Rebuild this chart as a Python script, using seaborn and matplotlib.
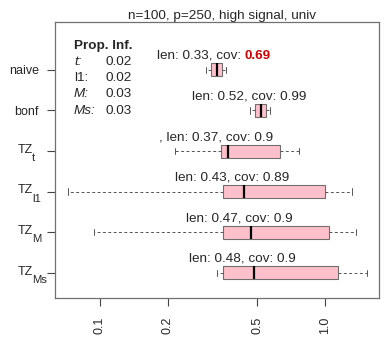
import numpy as np
import pandas as pd
import matplotlib
matplotlib.use('Agg')
import matplotlib.pyplot as plt
from matplotlib.transforms import blended_transform_factory
import seaborn as sns

methods = ['naive', 'bonf', 'TZ_t', 'TZ_l1', 'TZ_M', 'TZ_Ms']
label_main = ['naive', 'bonf', 'TZ', 'TZ', 'TZ', 'TZ']
label_sub = ['', '', 't', 'l1', 'M', 'Ms']

# five-number summaries of interval length
lo_whisker = [0.296, 0.464, 0.215, 0.0718, 0.0944, 0.332]
q1 = [0.313, 0.490, 0.345, 0.351, 0.351, 0.351]
median = [0.332, 0.519, 0.370, 0.435, 0.469, 0.483]
q3 = [0.348, 0.545, 0.631, 1.0, 1.042, 1.145]
hi_whisker = [0.363, 0.570, 0.769, 1.315, 1.374, 1.53]

len_text = ['0.33', '0.52', '0.37', '0.43', '0.47', '0.48']
cov_text = ['0.69', '0.99', '0.9', '0.89', '0.9', '0.9']
prefix = ['', '', ', ', '', '', '']

prop_names = ['t:', 'l1:', 'M:', 'Ms:']
prop_italic = [True, False, True, True]
prop_values = ['0.02', '0.02', '0.03', '0.03']

x_ticks = [0.1, 0.2, 0.5, 1.0]
x_tick_labels = ['0.1', '0.2', '0.5', '1.0']
title = 'n=100, p=250, high signal, univ'

sns.set_style('white')
plt.rcParams['font.family'] = ['Liberation Sans', 'DejaVu Sans']
fs_tick = 9.0
fs_text = 9.7

# 5 points per method -> quartiles land exactly on the summary values
rows = []
for i, m in enumerate(methods):
    for v in [lo_whisker[i], q1[i], median[i], q3[i], hi_whisker[i]]:
        rows.append({'method': m, 'length': v})
df = pd.DataFrame(rows)

fig = plt.figure(figsize=(3.88, 3.47), dpi=100)
ax = fig.add_axes([55 / 388, 49 / 347, 324 / 388, 276 / 347])

sns.boxplot(data=df, x='length', y='method', order=methods, orient='h',
            log_scale=True, whis=(0, 100), width=0.32, color='pink',
            saturation=1, linecolor='#6e6e6e', linewidth=0.8, fliersize=0,
            medianprops=dict(color='black', linewidth=1.6),
            whiskerprops=dict(color='#555555', linestyle=(0, (3, 2.5)), linewidth=0.7),
            capprops=dict(color='#555555', linewidth=0.7),
            ax=ax)

ax.set_xlim(0.0631, 1.738)
ax.set_ylim(5.62, -1.18)
ax.set_xticks(x_ticks)
ax.set_xticklabels(x_tick_labels, rotation=90, fontsize=fs_tick)
ax.minorticks_off()
ax.set_yticks(range(len(methods)))
ax.set_yticklabels([m if s == '' else '' for m, s in zip(label_main, label_sub)],
                   fontsize=fs_tick)
ax.set_xlabel('')
ax.set_ylabel('')
ax.tick_params(axis='both', which='major', bottom=True, left=True, length=6,
               width=0.8, color='#444444', direction='out')
ax.tick_params(axis='x', pad=7.5)
ax.tick_params(axis='y', pad=5.5)
for sp in ax.spines.values():
    sp.set_visible(True)
    sp.set_color('#707070')
    sp.set_linewidth(0.9)

# subscripted method names drawn as two pieces
ytrans = blended_transform_factory(ax.transAxes, ax.transData)
for i in range(len(methods)):
    if label_sub[i] == '':
        continue
    ax.annotate(label_main[i], xy=(0, i), xycoords=ytrans, xytext=(-16.2, -1.2),
                textcoords='offset points', ha='right', va='baseline',
                fontsize=fs_tick, annotation_clip=False)
    ax.annotate(label_sub[i], xy=(0, i), xycoords=ytrans, xytext=(-16.5, -7.2),
                textcoords='offset points', ha='left', va='baseline',
                fontsize=fs_tick * 0.9, annotation_clip=False)

ax.set_title(title, fontsize=fs_text, pad=2.2, x=0.5145)

# len / cov labels above each box
shift = 10 ** (-12 / 225)
for i in range(len(methods)):
    y = i - 0.27
    if float(cov_text[i]) < 0.8:
        anchor = median[i] * 1.30
        ax.annotate(f'{prefix[i]}len: {len_text[i]}, cov:', xy=(anchor, y),
                    xytext=(-1.5, 0), textcoords='offset points',
                    ha='right', va='baseline', fontsize=fs_text)
        ax.annotate(cov_text[i], xy=(anchor, y), xytext=(1.5, 0),
                    textcoords='offset points', ha='left', va='baseline',
                    fontsize=fs_text, color='#cc0000', fontweight='bold')
    else:
        ax.text(median[i] * shift, y, f'{prefix[i]}len: {len_text[i]}, cov: {cov_text[i]}',
                ha='center', va='baseline', fontsize=fs_text)

# proportion infinite legend
def ax_frac(px, py):
    return (px - 55) / 324, (298 - py) / 276

tx, ty = ax_frac(103.5, 48.5)
ax.text(tx, ty, 'Prop. Inf.', transform=ax.transAxes, ha='center',
        va='baseline', fontsize=fs_text, fontweight='bold')
for k in range(len(prop_names)):
    by = 64.6 + 16.4 * k
    lx, ly = ax_frac(74, by)
    ax.text(lx, ly, prop_names[k], transform=ax.transAxes, ha='left', va='baseline',
            fontsize=fs_text, style='italic' if prop_italic[k] else 'normal')
    vx, vy = ax_frac(106, by)
    ax.text(vx, vy, prop_values[k], transform=ax.transAxes, ha='left',
            va='baseline', fontsize=fs_text)

fig.savefig('out.png', dpi=100)
